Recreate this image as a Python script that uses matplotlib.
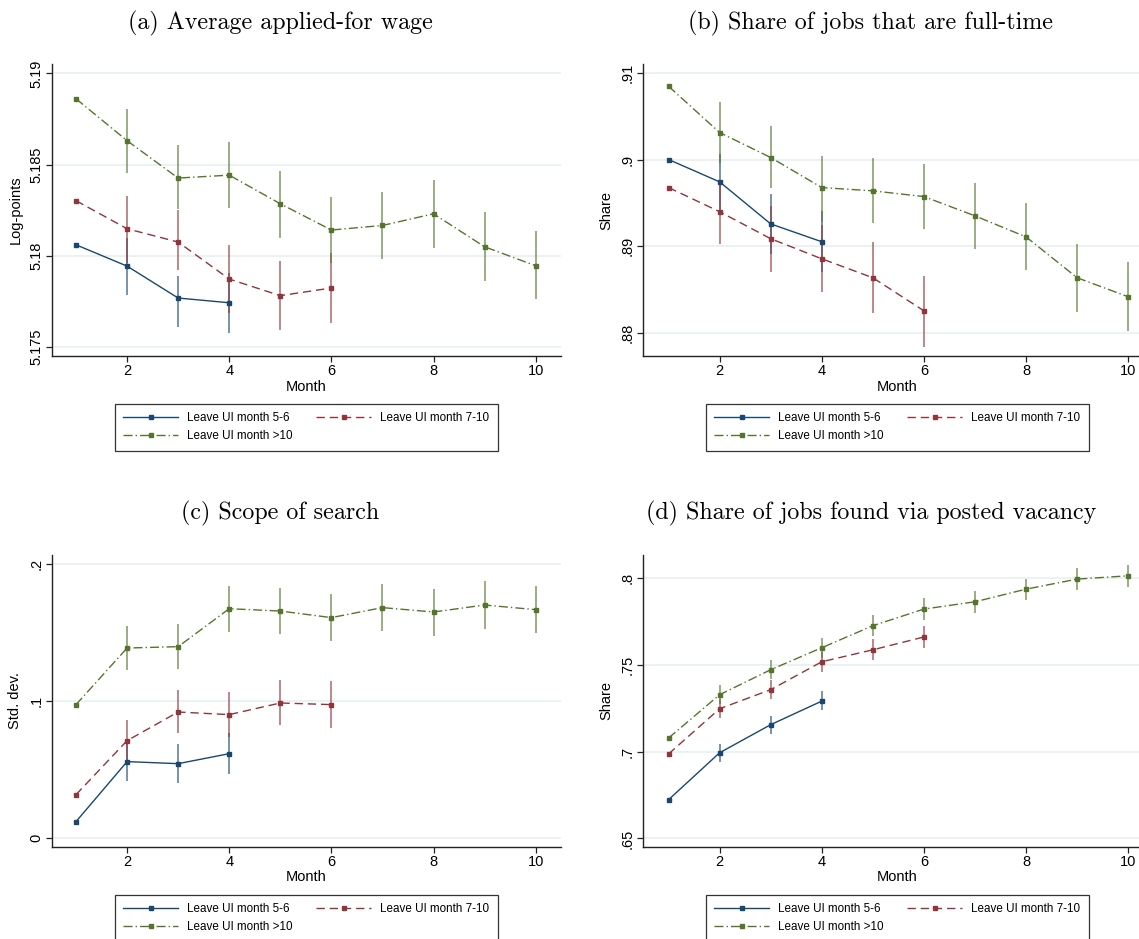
import numpy as np
import matplotlib
matplotlib.use("Agg")
import matplotlib.pyplot as plt

nan = np.nan
months = [1, 2, 3, 4, 5, 6, 7, 8, 9, 10]
series_labels = ["Leave UI month 5-6", "Leave UI month 7-10", "Leave UI month >10"]

# ---- Panel (a): Average applied-for wage (log points)
a_blue = [5.1806, 5.17943, 5.17768, 5.17742]
a_blue_lo = [nan, 5.17784, 5.17611, 5.17578]
a_blue_hi = [nan, 5.18095, 5.17888, 5.17907]
a_red = [5.18302, 5.18148, 5.18075, 5.17872, 5.17781, 5.17823]
a_red_lo = [nan, 5.17958, 5.17921, 5.17684, 5.17592, 5.17629]
a_red_hi = [nan, 5.18327, 5.18250, 5.18058, 5.17971, 5.18013]
a_green = [5.18861, 5.18631, 5.18426, 5.18442, 5.18285, 5.18141, 5.18166, 5.18230, 5.18049, 5.17945]
a_green_lo = [nan, 5.18452, 5.18254, 5.18260, 5.18099, 5.17958, 5.17982, 5.18044, 5.17863, 5.17761]
a_green_hi = [nan, 5.18804, 5.18607, 5.18625, 5.18464, 5.18324, 5.18349, 5.18417, 5.18238, 5.18133]
a_ticks = [5.175, 5.18, 5.185, 5.19]
a_ticklabels = ["5.175", "5.18", "5.185", "5.19"]

# ---- Panel (b): Share of jobs that are full-time
b_blue = [0.9000, 0.89742, 0.89256, 0.8905]
b_blue_lo = [nan, 0.8942, 0.8891, 0.8870]
b_blue_hi = [nan, 0.90062, 0.8960, 0.8940]
b_red = [0.89676, 0.89397, 0.89085, 0.88853, 0.88634, 0.88252]
b_red_lo = [nan, 0.89027, 0.88700, 0.88464, 0.88232, 0.87839]
b_red_hi = [nan, 0.89737, 0.89459, 0.89240, 0.89042, 0.88660]
b_green = [0.90846, 0.90312, 0.90023, 0.89676, 0.89638, 0.89572, 0.89349, 0.89106, 0.88634, 0.88414]
b_green_lo = [nan, 0.89957, 0.89676, 0.89278, 0.89262, 0.89194, 0.88965, 0.88726, 0.88244, 0.88015]
b_green_hi = [nan, 0.90659, 0.90382, 0.90042, 0.90012, 0.89950, 0.89731, 0.89492, 0.89027, 0.88811]
b_ticks = [0.88, 0.89, 0.90, 0.91]
b_ticklabels = [".88", ".89", ".9", ".91"]

# ---- Panel (c): Scope of search (std. dev.)
c_blue = [0.0122, 0.0560, 0.0545, 0.0618]
c_blue_lo = [nan, 0.0421, 0.0401, 0.0472]
c_blue_hi = [nan, 0.0696, 0.0686, 0.0766]
c_red = [0.0319, 0.0713, 0.0922, 0.0903, 0.0988, 0.0976]
c_red_lo = [nan, 0.0560, 0.0766, 0.0742, 0.0825, 0.0808]
c_red_hi = [nan, 0.0864, 0.1083, 0.1066, 0.1156, 0.1146]
c_green = [0.0976, 0.1389, 0.1399, 0.1676, 0.1659, 0.1611, 0.1684, 0.1652, 0.1703, 0.1669]
c_green_lo = [nan, 0.1229, 0.1238, 0.1509, 0.1490, 0.1443, 0.1516, 0.1479, 0.1530, 0.1496]
c_green_hi = [nan, 0.1550, 0.1562, 0.1842, 0.1825, 0.1783, 0.1859, 0.1822, 0.1876, 0.1842]
c_ticks = [0.0, 0.1, 0.2]
c_ticklabels = ["0", ".1", ".2"]

# ---- Panel (d): Share of jobs found via posted vacancy
d_blue = [0.6723, 0.6994, 0.7156, 0.7292]
d_blue_lo = [nan, 0.6942, 0.7102, 0.7238]
d_blue_hi = [nan, 0.7044, 0.7206, 0.7348]
d_red = [0.6987, 0.7248, 0.7358, 0.7519, 0.7588, 0.7662]
d_red_lo = [nan, 0.7192, 0.7302, 0.7460, 0.7527, 0.7598]
d_red_hi = [nan, 0.7302, 0.7413, 0.7575, 0.7648, 0.7725]
d_green = [0.7079, 0.7329, 0.7473, 0.7600, 0.7727, 0.7823, 0.7865, 0.7938, 0.7996, 0.8015]
d_green_lo = [nan, 0.7275, 0.7417, 0.7540, 0.7667, 0.7760, 0.7802, 0.7875, 0.7933, 0.7952]
d_green_hi = [nan, 0.7383, 0.7529, 0.7658, 0.7787, 0.7887, 0.7927, 0.7998, 0.8060, 0.8079]
d_ticks = [0.65, 0.70, 0.75, 0.80]
d_ticklabels = [".65", ".7", ".75", ".8"]

x_ticks = [2, 4, 6, 8, 10]

# ---------------- style ----------------
W, H = 1139, 939
BLUE = "#1a476f"
RED = "#90353b"
GREEN = "#55752f"
GRID = "#e6eff1"
SANS = ["Liberation Sans", "DejaVu Sans"]
SERIF = ["cmr10", "DejaVu Serif"]
plt.rcParams["font.family"] = SANS
plt.rcParams["axes.unicode_minus"] = False

styles = [
    dict(color=BLUE, ls="-"),
    dict(color=RED, ls=(0, (6, 3.5))),
    dict(color=GREEN, ls=(0, (6.5, 2.2, 1.0, 2.2))),
]

fig = plt.figure(figsize=(W / 100, H / 100), dpi=100)


def px_axes(left, top, right, bottom):
    return fig.add_axes([left / W, 1 - bottom / H, (right - left) / W, (bottom - top) / H])


panels = [
    dict(box=(52, 64.3, 560.7, 356), xlim=(0.53, 10.49), ylim=(5.1745, 5.1905),
         data=[(a_blue, a_blue_lo, a_blue_hi), (a_red, a_red_lo, a_red_hi), (a_green, a_green_lo, a_green_hi)],
         ticks=a_ticks, labels=a_ticklabels, ylabel="Log-points",
         title="(a) Average applied-for wage", tx=280, ty=23),
    dict(box=(643, 64.3, 1151.7, 356), xlim=(0.5, 10.46), ylim=(0.8773, 0.911),
         data=[(b_blue, b_blue_lo, b_blue_hi), (b_red, b_red_lo, b_red_hi), (b_green, b_green_lo, b_green_hi)],
         ticks=b_ticks, labels=b_ticklabels, ylabel="Share",
         title="(b) Share of jobs that are full-time", tx=871, ty=23),
    dict(box=(52, 555, 560.7, 846.7), xlim=(0.53, 10.49), ylim=(-0.0061, 0.2068),
         data=[(c_blue, c_blue_lo, c_blue_hi), (c_red, c_red_lo, c_red_hi), (c_green, c_green_lo, c_green_hi)],
         ticks=c_ticks, labels=c_ticklabels, ylabel="Std. dev.",
         title="(c) Scope of search", tx=280, ty=513),
    dict(box=(643, 555, 1151.7, 846.7), xlim=(0.5, 10.46), ylim=(0.6452, 0.8135),
         data=[(d_blue, d_blue_lo, d_blue_hi), (d_red, d_red_lo, d_red_hi), (d_green, d_green_lo, d_green_hi)],
         ticks=d_ticks, labels=d_ticklabels, ylabel="Share",
         title="(d) Share of jobs found via posted vacancy", tx=871, ty=513),
]

for p in panels:
    ax = px_axes(*p["box"])
    ax.set_xlim(*p["xlim"])
    ax.set_ylim(*p["ylim"])
    for t in p["ticks"]:
        ax.axhline(t, color=GRID, lw=1.1, zorder=0)
    handles = []
    for (mean, lo, hi), st in zip(p["data"], styles):
        xs = months[:len(mean)]
        ax.vlines(xs, lo, hi, color=st["color"], lw=1.1, alpha=0.75, zorder=2)
        (ln,) = ax.plot(xs, mean, color=st["color"], ls=st["ls"], lw=1.0,
                        marker="s", ms=3.4, mec=st["color"], mfc=st["color"], zorder=3)
        handles.append(ln)
    for s in ["top", "right"]:
        ax.spines[s].set_visible(False)
    for s in ["left", "bottom"]:
        ax.spines[s].set_color("#222222")
        ax.spines[s].set_linewidth(1.0)
    ax.set_xticks(x_ticks)
    ax.set_xticklabels([str(v) for v in x_ticks])
    ax.set_yticks(p["ticks"])
    ax.set_yticklabels(p["labels"])
    ax.tick_params(axis="both", direction="out", length=4, width=0.9, color="#222222",
                   labelsize=10.5, pad=2)
    for lab in ax.get_yticklabels():
        lab.set_rotation(90)
        lab.set_va("center")
    ax.set_xlabel("Month", fontsize=10.5, labelpad=1)
    ax.set_ylabel(p["ylabel"], fontsize=10.5)
    ax.yaxis.set_label_coords(-0.058, 0.5)
    fig.text(p["tx"] / W, 1 - p["ty"] / H, p["title"], family=SERIF, fontsize=17.3,
             ha="center", va="center")
    # column-major fill: order so rows read 5-6 | 7-10 / >10
    order = [0, 2, 1]
    leg = ax.legend([handles[i] for i in order], [series_labels[i] for i in order],
                    loc="upper center", bbox_to_anchor=(0.5, -0.164),
                    ncol=2, fontsize=8.4, frameon=True, fancybox=False, edgecolor="black",
                    handlelength=4.7, handletextpad=0.8, columnspacing=2.0, numpoints=1,
                    borderpad=0.7, labelspacing=0.55, borderaxespad=0)
    leg.get_frame().set_linewidth(0.9)
    leg.get_frame().set_facecolor("white")

fig.savefig("out.png", dpi=100)
